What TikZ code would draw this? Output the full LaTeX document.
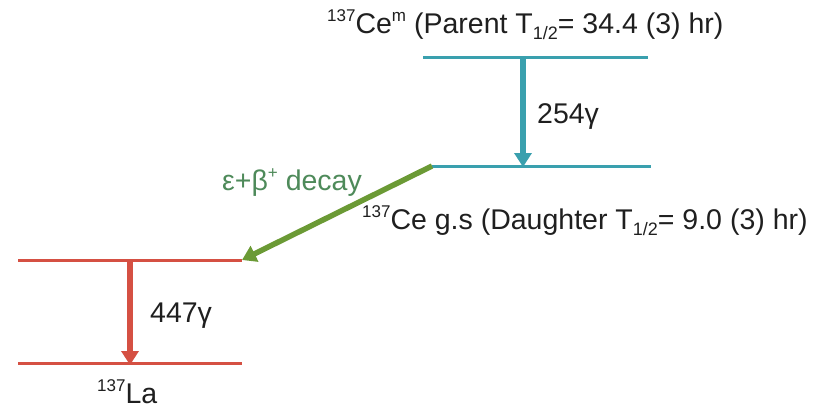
\documentclass[tikz,border=0pt]{standalone}
\usepackage{fontspec}
\setmainfont{Liberation Sans}
\usetikzlibrary{arrows.meta}
\definecolor{tealc}{HTML}{3AA0AE}
\definecolor{redc}{HTML}{D55043}
\definecolor{greenc}{HTML}{6B9A35}
\definecolor{greentxt}{HTML}{4E8A5A}
\tikzset{
  level/.style={line width=3pt},
  trans/.style={line width=5.5pt, -{Triangle[length=14pt,width=17pt]}},
  lbl/.style={inner sep=0pt, font=\fontsize{28.5}{33}\selectfont, text=black!88},
}
% small raised / lowered text in the labels
\newcommand{\up}[1]{\raisebox{0.42em}{\fontsize{17}{17}\selectfont #1}}
\newcommand{\dn}[1]{\raisebox{-0.22em}{\fontsize{18}{18}\selectfont #1}}
\newcommand{\thalf}{T\dn{1/2}}
\begin{document}
\begin{tikzpicture}[x=1pt,y=-1pt]
\useasboundingbox (0,0) rectangle (825,415);
% energy levels
\coordinate (pL) at (423,57);   \coordinate (pR) at (648,57);
\coordinate (gL) at (432,166);  \coordinate (gR) at (651,166);
\coordinate (lL) at (18,260);   \coordinate (lR) at (242,260);
\coordinate (bL) at (18,363);   \coordinate (bR) at (242,363);
\draw[level, tealc] (pL) -- (pR);
\draw[level, tealc] (gL) -- (gR);
\draw[level, redc] (lL) -- (lR);
\draw[level, redc] (bL) -- (bR);
% transitions
\coordinate (t1) at (523,57);  \coordinate (t2) at (523,167);
\coordinate (r1) at (130,260); \coordinate (r2) at (130,365);
\draw[trans, tealc] (t1) -- (t2);
\draw[trans, redc] (r1) -- (r2);
\draw[trans, greenc] (gL) -- (lR);
% labels
\node[lbl, anchor=base west] (parent) at (327,33)
  {\up{137}Ce\up{m} (Parent \thalf= 34.4 (3) hr)};
\node[lbl, anchor=base west] (g1) at (537,123) {254γ};
\node[lbl, anchor=base west, text=greentxt] (dec) at (222,190) {ε+β\up{+} decay};
\node[lbl, anchor=base west] (daughter) at (362,229)
  {\up{137}Ce g.s (Daughter \thalf= 9.0 (3) hr)};
\node[lbl, anchor=base west] (g2) at (150,322) {447γ};
\node[lbl, anchor=base west] (la) at (97,403) {\up{137}La};
\end{tikzpicture}
\end{document}
